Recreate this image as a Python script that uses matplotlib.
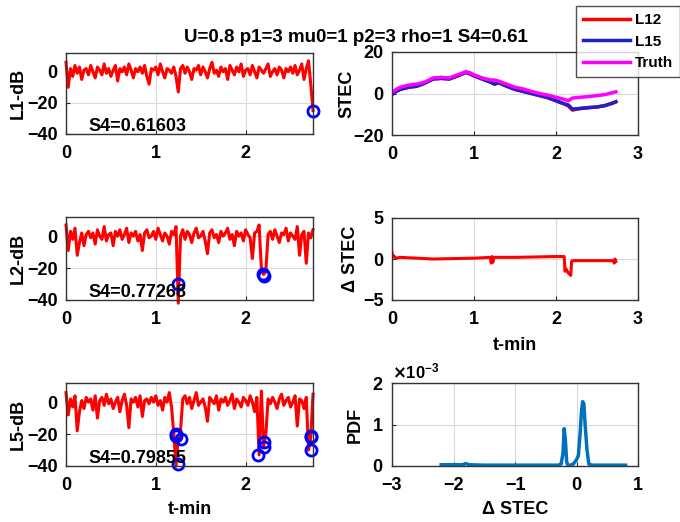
import numpy as np
import matplotlib
matplotlib.use("Agg")
import matplotlib.pyplot as plt
from matplotlib.ticker import ScalarFormatter

plt.rcParams['font.family'] = ['Liberation Sans', 'DejaVu Sans']
plt.rcParams['font.weight'] = 'bold'
plt.rcParams['axes.labelweight'] = 'bold'
plt.rcParams['font.size'] = 13

# ---- amplitude traces (dB), sampled every 0.025 min ----
l1_db = [6, -10, 2, -3, 4, -1, 3, -5, 1, 2,
         -2, 4, 0, -4, 3, 1, -2, 5, -1, 2,
         -3, 1, 4, -6, 2, 0, 3, -2, 5, 1,
         -4, 2, 0, 3, -1, 4, -3, -8, 2, 1,
         3, -2, 5, 0, -4, 2, 1, -1, 3, -3,
         -13, 2, 4, -1, 3, 0, -5, 2, 1, 4,
         -2, 3, 0, -4, 2, 6, -1, 1, -3, 3,
         0, 2, -5, 4, 1, -2, 3, 0, 5, -3,
         1, 2, -2, 4, 0, -4, 3, 1, -1, 2,
         5, -3, 0, 2, -2, 3, 1, -4, 2, 0,
         3, -1, 4, -2, 1, 5, -5, 2, 7, -8, -25]
l2_db = [7, -9, 3, -2, 5, -12, -4, 2, -6, 1,
         3, -1, 2, -5, 4, 0, -2, 6, -3, 1,
         2, -6, 3, 0, 4, -2, 1, 5, -4, 2,
         0, 3, -3, 1, -9, 2, 4, -1, 0, 3,
         -2, 5, 1, -3, 2, 0, -5, 3, 1, 6,
         -42, 0, 4, -2, 3, 1, -4, 2, 5, -1,
         0, 3, -3, -11, 2, 4, -1, 1, -4, 3,
         0, 2, 5, -2, 1, -6, 3, 0, 2, -3,
         4, 1, -1, -14, 2, 3, 7, -20, -24, -22,
         1, 3, -2, 4, 0, -4, 2, 1, 5, -3,
         2, 0, -2, 6, -12, 1, 3, -17, 2, -1, 4]
l5_db = [6, -8, 2, -3, 4, -18, -6, 1, -4, 3,
         0, 2, -5, 4, -10, 1, 3, -2, 5, -1,
         2, -4, 0, 3, -6, 1, 5, -2, -16, 2,
         0, 3, -3, 4, -9, 1, 2, -1, 3, 0,
         4, -2, 1, -5, 3, 0, 6, -3, -20, -40,
         -22, -18, 2, 4, -1, 3, -4, 1, 6, -2,
         0, 2, -3, -12, 3, 1, -1, 4, -5, 2,
         0, 3, -2, 1, 5, -4, 2, 0, -3, 3,
         1, -2, 4, 0, -6, 3, -33, 7, -28, -20,
         2, -1, 3, 0, -4, 2, 5, -2, 1, 3,
         -3, 0, 4, -15, 2, 1, -4, 3, -30, -22, 5]

# detected slips (blue circles)
l1_slip_t = [2.75]
l1_slip_v = [-25]
l2_slip_t = [1.25, 2.19, 2.2]
l2_slip_v = [-30, -24, -25]
l5_slip_t = [1.22, 1.23, 1.28, 1.25, 2.14, 2.2, 2.2, 2.73, 2.73, 2.73]
l5_slip_v = [-21, -20, -23, -39, -33, -25, -28, -22, -30, -21]

s4_values = ['0.61603', '0.77268', '0.79855']
left_labels = ['L1-dB', 'L2-dB', 'L5-dB']

# ---- STEC ----
stec_t = [0, 0.05, 0.1, 0.2, 0.3, 0.4, 0.5, 0.6, 0.7, 0.8, 0.9, 0.95, 1.0,
          1.1, 1.2, 1.25, 1.3, 1.4, 1.5, 1.6, 1.7, 1.8, 1.9, 2.0, 2.1, 2.15,
          2.2, 2.3, 2.4, 2.5, 2.6, 2.7, 2.73]
stec_truth = [0.5, 2, 3, 4, 4.5, 5.5, 7.5, 7.8, 7.5, 9, 10.5, 10, 9,
              7.5, 6.5, 6.5, 6, 4.5, 3, 2.2, 1, 0, -0.8, -1.8, -2.8, -3.5,
              -2.2, -1.8, -1.5, -1.0, -0.5, 0.5, 0.8]
stec_l15 = [-0.5, 1, 2, 3, 3.5, 5, 7, 7.3, 7, 8.5, 10.2, 9.5, 8.5,
            7, 5.5, 4.5, 5.2, 3.5, 2, 1, 0, -1, -2, -3.5, -5, -5.5,
            -7.5, -7.2, -6.8, -6.5, -5.8, -4.5, -4]
stec_l12 = [-0.5, 1, 2, 3, 3.5, 5, 7, 7.3, 7, 8.5, 10.2, 9.5, 8.5,
            7, 5.5, 4.5, 5.2, 3.5, 2, 1, 0, -1, -2, -3.5, -5, -6,
            -8, -7.2, -6.8, -6.5, -5.8, -4.5, -4]

# ---- delta STEC ----
dstec_t = [0, 0.01, 0.02, 0.05, 0.1, 0.5, 1.0, 1.2, 1.21, 1.22, 1.23, 1.24,
           1.25, 1.5, 2.0, 2.1, 2.11, 2.12, 2.15, 2.18, 2.19, 2.2, 2.5, 2.7,
           2.71, 2.72, 2.73]
dstec_v = [0.8, 0.2, 0.4, 0.1, 0.2, 0.0, 0.1, 0.2, -0.5, 0.3, -0.4, 0.2,
           0.2, 0.2, 0.3, 0.3, -1.5, -1.2, -1.7, -2.0, -0.3, -0.2, -0.2, -0.2,
           -0.5, 0.0, -0.3]

# ---- PDF of delta STEC ----
pdf_x = [-2.2, -2.0, -1.85, -1.8, -1.75, -1.5, -1.0, -0.5, -0.3, -0.25,
         -0.22, -0.2, -0.18, -0.16, -0.14, -0.1, -0.05, 0.0, 0.03, 0.06,
         0.08, 0.1, 0.12, 0.14, 0.17, 0.2, 0.25, 0.4, 0.6, 0.8]
pdf_y = [0.03, 0.03, 0.03, 0.06, 0.03, 0.02, 0.02, 0.02, 0.02, 0.05,
         0.3, 0.9, 0.6, 0.1, 0.02, 0.02, 0.05, 0.15, 0.25, 0.8,
         1.3, 1.55, 1.5, 1.0, 0.4, 0.05, 0.02, 0.02, 0.02, 0.02]

W, H = 680, 522
fig = plt.figure(figsize=(6.8, 5.22), dpi=100)


def pos(x0, y0, x1, y1):
    return [x0 / W, 1 - y1 / H, (x1 - x0) / W, (y1 - y0) / H]


def style(ax, ylab, ylab_x, xlab=None, xlab_y=None):
    ax.grid(True, color='0.85', linewidth=0.8)
    ax.set_axisbelow(True)
    ax.tick_params(direction='in', length=3, color='0.15', labelsize=13)
    ax.tick_params(axis='x', pad=8)
    ax.tick_params(axis='y', pad=6)
    for s in ax.spines.values():
        s.set_color('0.2')
        s.set_linewidth(1.0)
    ax.set_ylabel(ylab, fontsize=13)
    ax.yaxis.set_label_coords(ylab_x, 0.5)
    ax.yaxis.label.set_verticalalignment('center')
    if xlab:
        ax.set_xlabel(xlab, fontsize=13)
        ax.xaxis.set_label_coords(0.5, xlab_y)
        ax.xaxis.label.set_verticalalignment('center')


left_rows = [(53, 134), (217, 300), (383, 466)]
traces = [l1_db, l2_db, l5_db]
slips = [(l1_slip_t, l1_slip_v), (l2_slip_t, l2_slip_v), (l5_slip_t, l5_slip_v)]
for i in range(3):
    ax = fig.add_axes(pos(66, left_rows[i][0], 313, left_rows[i][1]))
    y = traces[i]
    t = np.linspace(0, 2.75, len(y))
    ax.plot(t, y, color='red', linewidth=2.2, clip_on=False)
    ax.plot(slips[i][0], slips[i][1], 'o', mfc='none', mec='blue',
            ms=8, mew=2, clip_on=False)
    ax.set_xlim(0, 2.75)
    ax.set_ylim(-40, 12)
    ax.set_yticks([-40, -20, 0])
    ax.set_xticks([0, 1, 2])
    ax.text(0.25, -35, 'S4=' + s4_values[i], fontsize=13, fontweight='bold',
            va='center', ha='left')
    if i == 2:
        style(ax, left_labels[i], -0.195, 't-min', -0.53)
    else:
        style(ax, left_labels[i], -0.195)

# STEC
ax = fig.add_axes(pos(392, 52, 638, 135))
h12, = ax.plot(stec_t, stec_l12, color='red', linewidth=2.5, label='L12')
h15, = ax.plot(stec_t, stec_l15, color='#2020c8', linewidth=2.5, label='L15')
ht, = ax.plot(stec_t, stec_truth, color='magenta', linewidth=2.5, label='Truth')
ax.set_xlim(0, 3)
ax.set_ylim(-20, 20)
ax.set_yticks([-20, 0, 20])
ax.set_xticks([0, 1, 2, 3])
style(ax, 'STEC', -0.183)

leg = fig.legend(handles=[h12, h15, ht], loc='upper left',
                 bbox_to_anchor=(576 / W, 1 - 6 / H), frameon=True,
                 fancybox=False, handlelength=3.1, borderpad=0.45,
                 labelspacing=0.5, handletextpad=0.3, borderaxespad=0,
                 prop={'weight': 'bold', 'size': 11})
leg.get_frame().set_edgecolor('0.15')
leg.get_frame().set_linewidth(1.0)

# delta STEC
ax = fig.add_axes(pos(392, 218, 638, 300))
ax.plot(dstec_t, dstec_v, color='red', linewidth=2.2)
ax.set_xlim(0, 3)
ax.set_ylim(-5, 5)
ax.set_yticks([-5, 0, 5])
ax.set_xticks([0, 1, 2, 3])
style(ax, '\u0394 STEC', -0.167, 't-min', -0.55)

# PDF
ax = fig.add_axes(pos(392, 383, 638, 466))
ax.plot(pdf_x, np.array(pdf_y) * 1e-3, color='#0072BD', linewidth=2.5)
ax.set_xlim(-3, 1)
ax.set_ylim(0, 2e-3)
ax.set_yticks([0, 1e-3, 2e-3])
ax.set_xticks([-3, -2, -1, 0, 1])
fmt = ScalarFormatter(useMathText=True)
fmt.set_powerlimits((-2, 2))
ax.yaxis.set_major_formatter(fmt)
ax.yaxis.get_offset_text().set_fontsize(12)
style(ax, 'PDF', -0.15, '\u0394 STEC', -0.53)

fig.text(356 / W, 1 - 38 / H, 'U=0.8 p1=3 mu0=1 p2=3 rho=1 S4=0.61',
         ha='center', va='center', fontsize=13.5, fontweight='bold')

fig.savefig('out.png', dpi=100)
